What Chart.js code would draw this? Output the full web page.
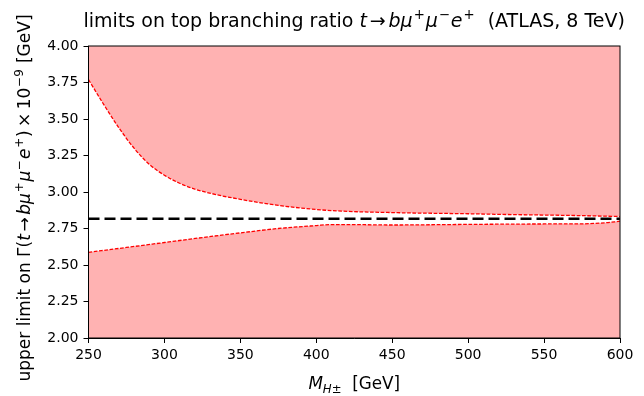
<!DOCTYPE html>
<html>
<head>
<meta charset="utf-8">
<script src="https://cdn.jsdelivr.net/npm/chart.js@4.4.1/dist/chart.umd.min.js"></script>
<style>
  html, body { margin: 0; padding: 0; background: #fff; }
  #wrap { width: 644px; height: 396px; }
</style>
</head>
<body>
<div id="wrap"><canvas id="limitChart"></canvas></div>
<script>
// charged Higgs mass points [GeV]
const massUpper = [250, 260, 270, 280, 290, 300, 310, 320, 335, 350, 367, 390, 411, 455, 500, 525, 575, 600];
const limitUpper = [3.77, 3.60, 3.44, 3.30, 3.19, 3.115, 3.06, 3.02, 2.98, 2.95, 2.92, 2.89, 2.872, 2.858, 2.851, 2.846, 2.838, 2.832];

const massLower = [250, 275, 300, 325, 350, 375, 400, 410, 430, 450, 500, 550, 575, 590, 600];
const limitLower = [2.587, 2.62, 2.654, 2.688, 2.72, 2.75, 2.77, 2.777, 2.776, 2.774, 2.778, 2.781, 2.782, 2.789, 2.80];

// observed reference line
const massRef = [250, 600];
const limitRef = [2.817, 2.817];

const xTicks = [250, 300, 350, 400, 450, 500, 550, 600];
const yTicks = [2.00, 2.25, 2.50, 2.75, 3.00, 3.25, 3.50, 3.75, 4.00];

const FONT = "'DejaVu Sans', sans-serif";

function toPoints(xs, ys) {
  return xs.map((x, i) => ({ x: x, y: ys[i] }));
}

// draw a line of text with italic / superscript / subscript pieces
function segFont(seg, size) {
  const sz = seg.s ? size * 0.7 : size;
  return (seg.i ? "italic " : "") + sz + "px " + FONT;
}
function richWidth(ctx, segs, size) {
  let w = 0;
  segs.forEach((seg) => {
    ctx.font = segFont(seg, size);
    w += ctx.measureText(seg.t).width + (seg.gap || 0) * size;
  });
  return w;
}
function drawRich(ctx, segs, size, cx, cy, rot) {
  ctx.save();
  ctx.translate(cx, cy);
  ctx.rotate(rot || 0);
  ctx.fillStyle = "#000";
  ctx.textBaseline = "alphabetic";
  ctx.textAlign = "left";
  let x = -richWidth(ctx, segs, size) / 2;
  segs.forEach((seg) => {
    ctx.font = segFont(seg, size);
    let dy = 0;
    if (seg.s === "sup") dy = -size * 0.42;
    if (seg.s === "sub") dy = size * 0.22;
    const g = (seg.gap || 0) * size / 2;
    ctx.fillText(seg.t, x + g, dy);
    x += ctx.measureText(seg.t).width + 2 * g;
  });
  ctx.restore();
}

const titleSegs = [
  { t: "limits on top branching ratio " }, { t: "t", i: 1 }, { t: "\u2192", gap: 0.3 },
  { t: "b\u03bc", i: 1 }, { t: "+", s: "sup", gap: 0.1 }, { t: "\u03bc", i: 1 }, { t: "\u2212", s: "sup", gap: 0.1 },
  { t: "e", i: 1 }, { t: "+", s: "sup", gap: 0.1 }, { t: "  (ATLAS, 8 TeV)" }
];
const yTitleSegs = [
  { t: "upper limit on \u0393(" }, { t: "t", i: 1 }, { t: "\u2192", gap: 0.3 },
  { t: "b\u03bc", i: 1 }, { t: "+", s: "sup", gap: 0.1 }, { t: "\u03bc", i: 1 }, { t: "\u2212", s: "sup", gap: 0.1 },
  { t: "e", i: 1 }, { t: "+", s: "sup", gap: 0.1 }, { t: ")" }, { t: "\u00d7", gap: 0.4 }, { t: "10" },
  { t: "\u22129", s: "sup", gap: 0.1 }, { t: " [GeV]" }
];
const xTitleSegs = [
  { t: "M", i: 1 }, { t: "H\u00b1", i: 1, s: "sub" }, { t: "  [GeV]" }
];

// frame + texts
const decorPlugin = {
  id: "decor",
  afterDraw(chart) {
    const ctx = chart.ctx;
    const a = chart.chartArea;
    ctx.save();
    ctx.strokeStyle = "#000";
    ctx.lineWidth = 1;
    ctx.strokeRect(a.left, a.top, a.right - a.left, a.bottom - a.top);
    ctx.restore();
    const cx = (a.left + a.right) / 2;
    drawRich(ctx, titleSegs, 19, cx, 27, 0);
    drawRich(ctx, yTitleSegs, 17, 30, 198, -Math.PI / 2);
    drawRich(ctx, xTitleSegs, 16.8, cx, 389, 0);
  }
};

const ctx = document.getElementById("limitChart").getContext("2d");

new Chart(ctx, {
  type: "line",
  data: {
    datasets: [
      {
        data: toPoints(massRef, limitRef),
        borderColor: "#000",
        borderWidth: 2.5,
        borderDash: [11, 5],
        pointRadius: 0,
        fill: false
      },
      {
        data: toPoints(massUpper, limitUpper),
        borderColor: "#ff0000",
        borderWidth: 1.3,
        borderDash: [3.7, 1.6],
        pointRadius: 0,
        cubicInterpolationMode: "monotone",
        fill: "end",
        backgroundColor: "rgba(255, 0, 0, 0.3)"
      },
      {
        data: toPoints(massLower, limitLower),
        borderColor: "#ff0000",
        borderWidth: 1.3,
        borderDash: [3.7, 1.6],
        pointRadius: 0,
        cubicInterpolationMode: "monotone",
        fill: "start",
        backgroundColor: "rgba(255, 0, 0, 0.3)"
      }
    ]
  },
  options: {
    responsive: true,
    maintainAspectRatio: false,
    animation: false,
    layout: { padding: { left: 40, right: 24, top: 46, bottom: 0 } },
    plugins: {
      legend: { display: false },
      tooltip: { enabled: false },
      filler: { drawTime: "beforeDatasetsDraw" }
    },
    scales: {
      x: {
        type: "linear",
        min: 250,
        max: 600,
        afterFit: (scale) => { scale.height = 58; },
        afterBuildTicks: (scale) => { scale.ticks = xTicks.map((v) => ({ value: v })); },
        grid: { display: true, drawOnChartArea: false, drawTicks: true, tickLength: 5, color: "#000" },
        border: { display: true, color: "#000" },
        ticks: { color: "#000", font: { family: FONT, size: 14 }, padding: 4, maxRotation: 0 }
      },
      y: {
        type: "linear",
        min: 2,
        max: 4,
        afterFit: (scale) => { scale.width = 48.5; },
        afterBuildTicks: (scale) => { scale.ticks = yTicks.map((v) => ({ value: v })); },
        grid: { display: true, drawOnChartArea: false, drawTicks: true, tickLength: 5, color: "#000" },
        border: { display: true, color: "#000" },
        ticks: {
          color: "#000",
          font: { family: FONT, size: 14 },
          padding: 5,
          callback: (v) => Number(v).toFixed(2)
        }
      }
    }
  },
  plugins: [decorPlugin]
});
</script>
</body>
</html>
